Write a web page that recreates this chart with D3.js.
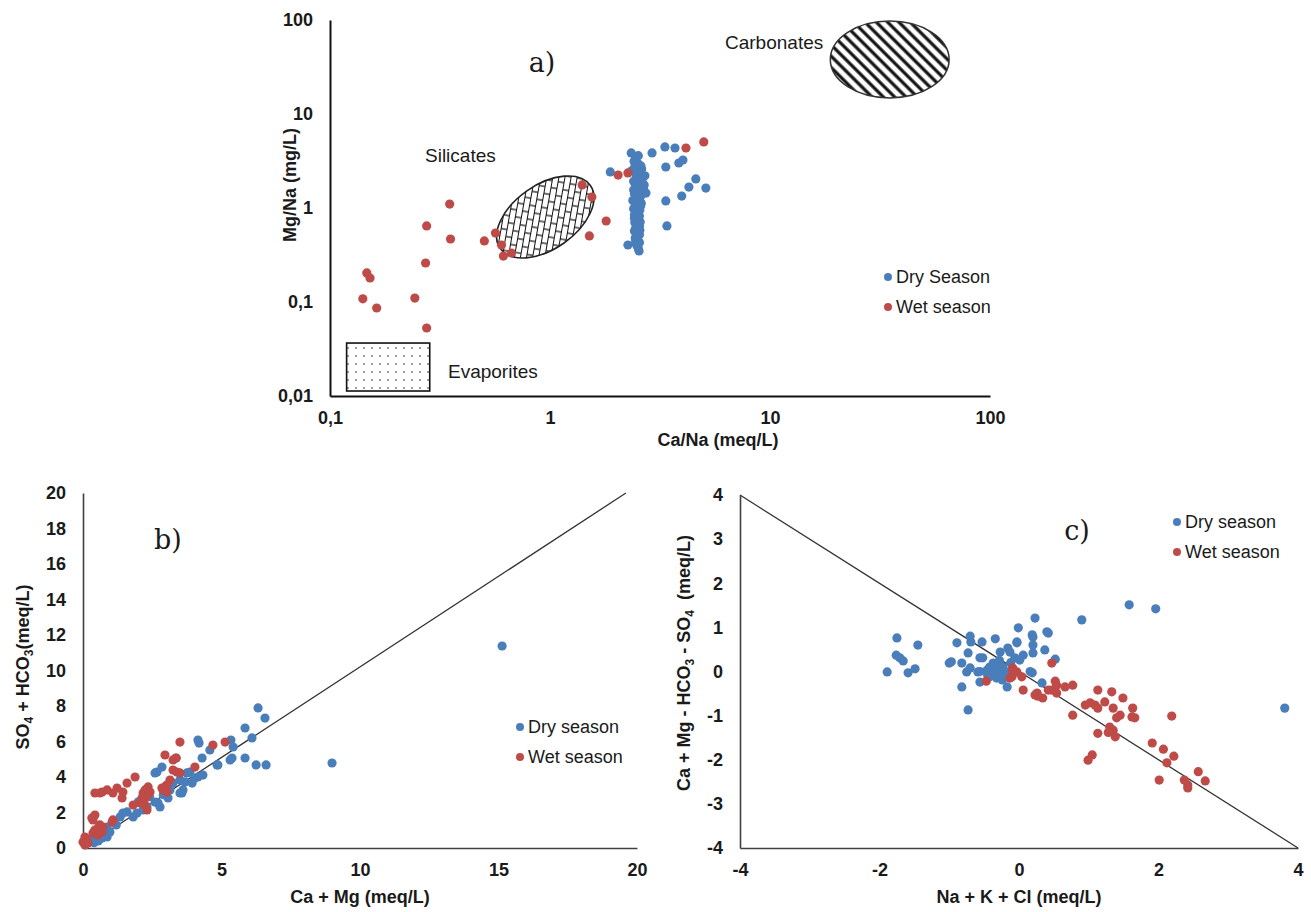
<!DOCTYPE html>
<html><head><meta charset="utf-8">
<script src="https://cdn.jsdelivr.net/npm/d3@7"></script>
<style>
body{margin:0;background:#fff}
svg{display:block}
</style>
</head><body>
<svg id="chart" width="1311" height="912"></svg>
<script>
// ---------- DATA ----------
// Panel a: Ca/Na (x) vs Mg/Na (y), log scales
const aDry = [[1.88,2.42],[2.34,3.85],[2.91,3.85],[3.33,4.46],[3.70,4.35],[3.36,2.73],[3.85,3.01],[4.02,3.24],
  [4.60,2.04],[4.28,1.67],[3.97,1.34],[5.11,1.63],[3.36,1.19],[3.40,0.644],[2.26,0.404],[2.54,0.349],[2.68,1.76],[2.73,1.44],
  [2.45,3.40],[2.50,3.01],[2.42,2.66],[2.55,2.42],[2.47,2.18],[2.60,1.98],[2.44,1.80],[2.52,1.63],[2.48,1.49],[2.58,1.34],
  [2.46,1.22],[2.53,1.10],[2.49,1.00],[2.44,0.91],[2.55,0.82],[2.47,0.74],[2.51,0.68],[2.45,0.61],[2.53,0.55],[2.48,0.50],
  [2.50,0.46],[2.47,0.41],[2.52,0.37],[2.44,2.90],[2.56,2.30],[2.40,1.55],[2.58,1.05],[2.42,0.78],[2.56,0.58],[2.50,2.05],
  [2.62,1.90],[2.38,1.20],[2.52,3.60],[2.41,3.15],[2.59,2.80],[2.36,2.50],[2.61,2.60],[2.57,2.12],[2.40,1.92],[2.64,1.72],
  [2.55,1.58],[2.42,1.42],[2.56,1.28],[2.43,1.15],[2.60,1.12],[2.40,0.98],[2.56,0.95],[2.52,0.86],[2.42,0.84],[2.57,0.71],
  [2.43,0.70],[2.55,0.64],[2.42,0.57],[2.55,0.52],[2.44,0.48],[2.55,0.43],[2.45,0.44],[2.50,0.39],[2.66,1.62],[2.70,2.20]];
const aWet = [[0.141,0.108],[0.147,0.204],[0.152,0.180],[0.163,0.0863],[0.243,0.110],[0.275,0.0529],[0.272,0.260],
  [0.275,0.644],[0.350,1.10],[0.353,0.468],[0.503,0.446],[0.565,0.542],[0.602,0.404],[0.614,0.308],[0.668,0.332],
  [1.40,1.76],[1.55,1.31],[1.51,0.504],[1.80,0.727],[2.04,2.24],[2.26,2.36],[4.15,4.35],[5.00,5.04]];
const aXTicks = [0.1, 1, 10, 100];
const aXLabels = ["0,1", "1", "10", "100"];
const aYTicks = [0.01, 0.1, 1, 10, 100];
const aYLabels = ["0,01", "0,1", "1", "10", "100"];

// Panel b: Ca + Mg (x) vs SO4 + HCO3 (y)
const bDry = [[6.32,7.89],[6.57,7.32],[5.85,6.76],[6.10,6.20],[5.85,5.07],[6.25,4.68],[6.61,4.68],[5.34,6.08],[5.42,5.69],
  [5.38,5.07],[4.87,4.68],[4.58,5.52],[4.15,6.08],[4.19,5.91],[4.30,5.07],[4.33,4.11],[4.04,3.94],[3.94,3.66],[3.36,5.07],
  [2.85,4.56],[2.67,4.28],[3.57,3.10],[3.25,3.66],[3.68,3.72],[3.14,3.27],[2.60,4.23],[3.75,4.23],[3.86,4.28],[3.50,3.83],
  [4.15,4.00],[3.61,3.27],[3.50,3.10],[3.07,2.82],[2.60,2.59],[2.71,2.54],[2.78,2.31],[2.31,2.31],[2.17,2.14],[1.95,1.97],
  [1.81,1.75],[1.44,1.97],[1.59,2.03],[1.34,1.75],[1.08,1.46],[0.87,1.18],[0.72,1.01],[0.61,0.85],[0.51,0.62],[0.36,0.56],
  [0.25,0.45],[0.14,0.34],[0.97,0.90],[0.87,0.62],[0.69,0.56],[8.99,4.79],[15.13,11.38],[5.31,4.96],[4.84,4.68],[1.20,1.30],
  [2.00,2.60],[2.40,2.90],[3.00,3.50],[2.90,3.00],[0.40,0.30],[0.55,0.40]];
const bWet = [[3.50,5.97],[4.69,5.80],[5.13,5.97],[2.96,5.24],[3.25,4.96],[3.36,5.07],[4.04,4.56],[3.25,4.39],[3.39,4.28],
  [3.50,4.23],[1.88,4.00],[1.59,3.66],[1.23,3.38],[1.44,3.15],[1.41,2.82],[1.08,3.10],[0.87,3.27],[0.69,3.15],[0.43,3.10],
  [0.61,3.10],[3.14,3.83],[3.03,3.55],[2.85,3.38],[2.35,3.44],[2.24,3.27],[2.17,3.10],[2.42,3.15],[2.31,2.87],[2.13,2.82],
  [2.06,2.54],[2.24,2.42],[2.31,2.14],[1.81,2.42],[2.89,3.27],[3.03,3.15],[1.08,1.58],[1.05,1.46],[0.43,1.86],[0.32,1.69],
  [0.36,1.58],[0.61,1.30],[0.54,1.13],[0.72,1.18],[0.43,1.01],[0.54,0.73],[0.36,0.85],[0.69,0.90],[0.07,0.62],[0.14,0.45],
  [0.00,0.34],[0.07,0.17],[0.18,0.28]];
const bXTicks = [0, 5, 10, 15, 20];
const bYTicks = [0, 2, 4, 6, 8, 10, 12, 14, 16, 18, 20];
const bLine = [[0, 0], [19.6, 20]];

// Panel c: Na + K + Cl (x) vs Ca + Mg - HCO3 - SO4 (y)
const cDry = [[-1.75,0.76],[-1.76,0.37],[-1.71,0.31],[-1.66,0.24],[-1.45,0.60],[-1.89,-0.01],[-1.59,-0.03],[-1.49,0.06],
  [-0.89,0.65],[-1.00,0.19],[-0.97,0.22],[-0.82,0.19],[-0.70,0.80],[-0.69,0.67],[-0.53,0.67],[-0.73,0.42],[-0.56,0.31],
  [-0.52,0.31],[-0.75,-0.01],[-0.70,0.08],[-0.82,-0.35],[-0.73,-0.87],[-0.56,-0.24],[-0.59,-0.01],[-0.34,0.74],[-0.56,0.00],
  [-0.46,0.03],[-0.42,0.10],[-0.37,0.19],[-0.32,0.03],[-0.27,-0.03],[-0.23,0.10],[-0.17,-0.12],[-0.32,-0.15],[-0.42,-0.12],
  [-0.24,-0.19],[-0.17,-0.35],[-0.27,0.44],[-0.16,0.53],[-0.13,0.44],[-0.03,0.67],[-0.01,0.99],[-0.06,0.31],[0.01,0.26],
  [0.06,0.37],[0.20,0.78],[0.23,1.21],[0.20,0.42],[0.37,0.49],[0.40,0.90],[0.16,0.00],[0.19,-0.03],[0.33,-0.26],[1.58,1.51],
  [1.96,1.42],[0.90,1.17],[0.19,0.83],[0.42,0.87],[-0.03,0.65],[0.20,0.60],[0.52,0.28],[3.81,-0.83],[-0.40,0.05],[-0.35,-0.05],
  [-0.30,0.12],[-0.20,0.00],[-0.10,0.05],[-0.45,-0.08],[-0.28,0.25],[-0.12,0.20]];
const cWet = [[0.47,0.19],[-0.09,0.08],[-0.03,-0.01],[0.04,-0.12],[-0.10,-0.12],[-0.47,-0.22],[0.06,-0.42],[0.27,-0.56],
  [0.34,-0.60],[0.26,-0.49],[0.52,-0.22],[0.54,-0.31],[0.47,-0.42],[0.54,-0.49],[0.66,-0.35],[0.77,-0.31],[1.13,-0.42],
  [1.33,-0.46],[1.49,-0.60],[0.95,-0.76],[1.02,-0.71],[1.09,-0.76],[1.13,-0.83],[1.23,-0.69],[1.35,-0.83],[1.40,-1.05],
  [1.45,-0.99],[1.63,-0.83],[1.62,-1.03],[1.66,-1.05],[0.77,-0.99],[2.19,-1.01],[1.30,-1.26],[1.35,-1.33],[1.13,-1.40],
  [1.38,-1.48],[1.28,-1.38],[1.05,-1.89],[0.99,-2.01],[1.91,-1.62],[2.07,-1.76],[2.22,-1.92],[2.12,-2.07],[2.01,-2.46],
  [2.37,-2.46],[2.42,-2.57],[2.42,-2.64],[2.57,-2.27],[2.67,-2.48],[-0.13,-0.15],[-0.09,0.03],[0.23,-0.53],[0.42,-0.42]];
const cXTicks = [-4, -2, 0, 2, 4];
const cYTicks = [-4, -3, -2, -1, 0, 1, 2, 3, 4];
const cLine = [[-4, 4], [4, -4]];

// ---------- STYLE ----------
const BLUE = "#4a7ebb", RED = "#be4b48";
const SANS = "'Liberation Sans', Arial, sans-serif";
const SERIF = "'DejaVu Serif', 'Liberation Serif', serif";
const svg = d3.select("#chart");
const defs = svg.append("defs");

// hatch patterns
const pCarb = defs.append("pattern").attr("id","carb").attr("patternUnits","userSpaceOnUse")
  .attr("width",8).attr("height",8).attr("patternTransform","rotate(-45)");
pCarb.append("rect").attr("width",8).attr("height",8).attr("fill","#fff");
pCarb.append("line").attr("x1",4).attr("y1",0).attr("x2",4).attr("y2",8).attr("stroke","#111").attr("stroke-width",3.2);

const pSil = defs.append("pattern").attr("id","sil").attr("patternUnits","userSpaceOnUse")
  .attr("width",14).attr("height",12).attr("patternTransform","rotate(-45)");
pSil.append("rect").attr("width",14).attr("height",12).attr("fill","#fff");
pSil.append("path").attr("d","M0,0.5H14M0,6.5H14M2,0.5V6.5M9,6.5V12.5")
  .attr("stroke","#111").attr("stroke-width",1.2).attr("fill","none");

const pEva = defs.append("pattern").attr("id","eva").attr("patternUnits","userSpaceOnUse")
  .attr("width",8).attr("height",8);
pEva.append("rect").attr("width",8).attr("height",8).attr("fill","#fff");
pEva.append("circle").attr("cx",4).attr("cy",4).attr("r",0.8).attr("fill","#222");

function txt(g, size, weight, family) {
  return g.append("text").style("font-family", family || SANS).style("font-size", size + "px")
    .style("font-weight", weight || "normal").style("fill", "#1a1a1a");
}
function styleAxis(g, color, width) {
  g.select(".domain").attr("stroke", color).attr("stroke-width", width);
  g.selectAll(".tick line").remove();
  g.selectAll(".tick text").style("font-size", "18px").style("font-weight", "bold")
    .style("font-family", SANS).style("fill", "#1a1a1a");
}
function dots(g, data, x, y, color) {
  g.append("g").selectAll("circle").data(data).join("circle")
    .attr("cx", d => x(d[0])).attr("cy", d => y(d[1])).attr("r", 4.6).attr("fill", color);
}
function legend(g, x0, y0, labels) {
  const cols = [BLUE, RED];
  labels.forEach((t, i) => {
    g.append("circle").attr("cx", x0).attr("cy", y0 + i * 30).attr("r", 4).attr("fill", cols[i]);
    txt(g, 18).attr("x", x0 + 8).attr("y", y0 + i * 30).attr("dy", "0.35em").text(t);
  });
}
const plain = d => String(d);

// ---------- PANEL A ----------
const xA = d3.scaleLog().domain([0.1, 100]).range([330, 990]);
const yA = d3.scaleLog().domain([0.01, 100]).range([396, 20]);
const gA = svg.append("g");

// regions (data coordinates)
const carb = {x0: 18.8, x1: 65.2, y0: 14.8, y1: 97.6};
gA.append("ellipse")
  .attr("cx", (xA(carb.x0) + xA(carb.x1)) / 2).attr("cy", (yA(carb.y0) + yA(carb.y1)) / 2)
  .attr("rx", (xA(carb.x1) - xA(carb.x0)) / 2).attr("ry", (yA(carb.y0) - yA(carb.y1)) / 2)
  .attr("fill", "url(#carb)").attr("stroke", "#333").attr("stroke-width", 1.5);
const sil = {x: 0.952, y: 0.802};
gA.append("ellipse").attr("transform", `translate(${xA(sil.x)},${yA(sil.y)}) rotate(-35)`)
  .attr("rx", 55).attr("ry", 32).attr("fill", "url(#sil)").attr("stroke", "#222").attr("stroke-width", 1.6);
const eva = {x0: 0.119, x1: 0.284, y0: 0.0113, y1: 0.0366};
gA.append("rect").attr("x", xA(eva.x0)).attr("y", yA(eva.y1))
  .attr("width", xA(eva.x1) - xA(eva.x0)).attr("height", yA(eva.y0) - yA(eva.y1))
  .attr("fill", "url(#eva)").attr("stroke", "#111").attr("stroke-width", 1.6);

txt(gA, 19).attr("x", 725).attr("y", 49).text("Carbonates");
txt(gA, 19).attr("x", 425).attr("y", 162).text("Silicates");
txt(gA, 19).attr("x", 448).attr("y", 378).text("Evaporites");

const axAx = gA.append("g").attr("transform", "translate(0,396)")
  .call(d3.axisBottom(xA).tickValues(aXTicks).tickFormat((d, i) => aXLabels[i]).tickSize(0).tickPadding(15).tickSizeOuter(0));
styleAxis(axAx, "#111", 2);
const ayAx = gA.append("g").attr("transform", "translate(330,0)")
  .call(d3.axisLeft(yA).tickValues(aYTicks).tickFormat((d, i) => aYLabels[i]).tickSize(0).tickPadding(17).tickSizeOuter(0));
styleAxis(ayAx, "#111", 2);

dots(gA, aDry, xA, yA, BLUE);
dots(gA, aWet, xA, yA, RED);

txt(gA, 18, "bold").attr("x", 718).attr("y", 446).attr("text-anchor", "middle").text("Ca/Na (meq/L)");
txt(gA, 18, "bold").attr("transform", "translate(296,185) rotate(-90)").attr("text-anchor", "middle").text("Mg/Na (mg/L)");
txt(gA, 27, "normal", SERIF).attr("x", 542).attr("y", 72).attr("text-anchor", "middle").text("a)");
legend(gA, 888, 277, ["Dry Season", "Wet season"]);

// ---------- PANEL B ----------
const xB = d3.scaleLinear().domain([0, 20]).range([83, 637]);
const yB = d3.scaleLinear().domain([0, 20]).range([848, 493]);
const gB = svg.append("g");
const bxAx = gB.append("g").attr("transform", "translate(0,848)")
  .call(d3.axisBottom(xB).tickValues(bXTicks).tickFormat(plain).tickSize(0).tickPadding(15).tickSizeOuter(0));
styleAxis(bxAx, "#404040", 1.6);
const byAx = gB.append("g").attr("transform", "translate(83,0)")
  .call(d3.axisLeft(yB).tickValues(bYTicks).tickFormat(plain).tickSize(0).tickPadding(17).tickSizeOuter(0));
styleAxis(byAx, "#404040", 1.6);
gB.append("path").datum(bLine).attr("d", d3.line().x(d => xB(d[0])).y(d => yB(d[1])))
  .attr("stroke", "#333").attr("stroke-width", 1.3).attr("fill", "none");
dots(gB, bDry, xB, yB, BLUE);
dots(gB, bWet, xB, yB, RED);
txt(gB, 18, "bold").attr("x", 360).attr("y", 903).attr("text-anchor", "middle").text("Ca + Mg (meq/L)");
const tb = txt(gB, 18, "bold").attr("transform", "translate(29,667) rotate(-90)").attr("text-anchor", "middle");
tb.append("tspan").text("SO");
tb.append("tspan").style("font-size", "12px").attr("dy", 4).text("4");
tb.append("tspan").attr("dy", -4).text(" + HCO");
tb.append("tspan").style("font-size", "12px").attr("dy", 4).text("3");
tb.append("tspan").attr("dy", -4).text("(meq/L)");
txt(gB, 27, "normal", SERIF).attr("x", 168).attr("y", 549).attr("text-anchor", "middle").text("b)");
legend(gB, 520, 727, ["Dry season", "Wet season"]);

// ---------- PANEL C ----------
const xC = d3.scaleLinear().domain([-4, 4]).range([740, 1298]);
const yC = d3.scaleLinear().domain([-4, 4]).range([848, 495]);
const gC = svg.append("g");
const cxAx = gC.append("g").attr("transform", "translate(0,848)")
  .call(d3.axisBottom(xC).tickValues(cXTicks).tickFormat(plain).tickSize(0).tickPadding(15).tickSizeOuter(0));
styleAxis(cxAx, "#404040", 1.6);
const cyAx = gC.append("g").attr("transform", "translate(740,0)")
  .call(d3.axisLeft(yC).tickValues(cYTicks).tickFormat(plain).tickSize(0).tickPadding(17).tickSizeOuter(0));
styleAxis(cyAx, "#404040", 1.6);
gC.append("path").datum(cLine).attr("d", d3.line().x(d => xC(d[0])).y(d => yC(d[1])))
  .attr("stroke", "#333").attr("stroke-width", 1.3).attr("fill", "none");
dots(gC, cDry, xC, yC, BLUE);
dots(gC, cWet, xC, yC, RED);
txt(gC, 18, "bold").attr("x", 1019).attr("y", 903).attr("text-anchor", "middle").text("Na + K + Cl (meq/L)");
const tc = txt(gC, 18, "bold").attr("transform", "translate(690,663) rotate(-90)").attr("text-anchor", "middle")
  .style("white-space", "pre");
tc.append("tspan").text("Ca + Mg - HCO");
tc.append("tspan").style("font-size", "12px").attr("dy", 4).text("3");
tc.append("tspan").attr("dy", -4).text(" - SO");
tc.append("tspan").style("font-size", "12px").attr("dy", 4).text("4");
tc.append("tspan").attr("dy", -4).text("  (meq/L)");
txt(gC, 27, "normal", SERIF).attr("x", 1077).attr("y", 540).attr("text-anchor", "middle").text("c)");
legend(gC, 1177, 522, ["Dry season", "Wet season"]);
</script>
</body></html>
